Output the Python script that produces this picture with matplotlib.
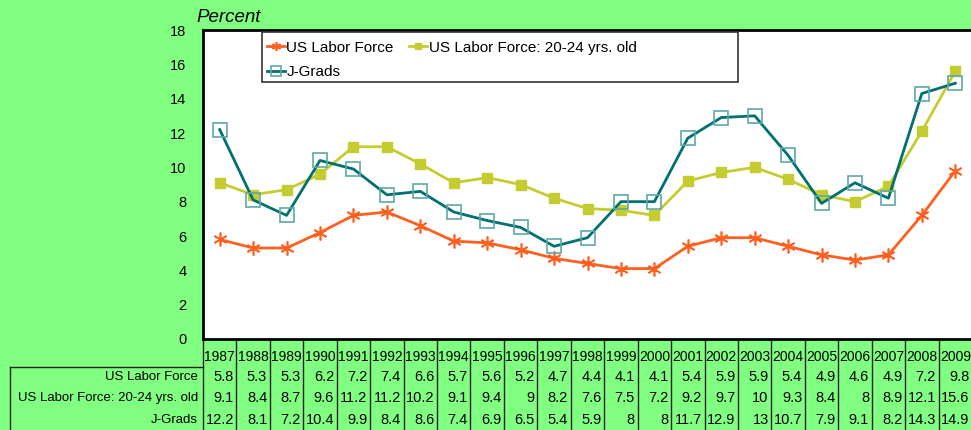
import matplotlib.pyplot as plt
import matplotlib.transforms as mtransforms
from matplotlib.lines import Line2D
from matplotlib.patches import Rectangle

plt.rcParams['font.family'] = ['Liberation Sans', 'DejaVu Sans']

years = list(range(1987, 2010))
labor = [5.8, 5.3, 5.3, 6.2, 7.2, 7.4, 6.6, 5.7, 5.6, 5.2, 4.7, 4.4, 4.1, 4.1,
         5.4, 5.9, 5.9, 5.4, 4.9, 4.6, 4.9, 7.2, 9.8]
young = [9.1, 8.4, 8.7, 9.6, 11.2, 11.2, 10.2, 9.1, 9.4, 9, 8.2, 7.6, 7.5, 7.2,
         9.2, 9.7, 10, 9.3, 8.4, 8, 8.9, 12.1, 15.6]
jgrads = [12.2, 8.1, 7.2, 10.4, 9.9, 8.4, 8.6, 7.4, 6.9, 6.5, 5.4, 5.9, 8, 8,
          11.7, 12.9, 13, 10.7, 7.9, 9.1, 8.2, 14.3, 14.9]
names = ['US Labor Force', 'US Labor Force: 20-24 yrs. old', 'J-Grads']

W, H = 971, 430
bg = '#80FF80'
fig = plt.figure(figsize=(W / 100, H / 100), dpi=100, facecolor=bg)


def fx(x):
    return x / W


def fy(y):
    return 1 - y / H


left, right, top, bottom = 203, 972, 30, 339
ax = fig.add_axes([fx(left), fy(bottom), fx(right - left), (bottom - top) / H])
ax.set_facecolor('white')

xs = list(range(len(years)))
ax.plot(xs, labor, color='#FF6020', lw=2, marker=(6, 2, 0), ms=10,
        mec='#FF6020', mew=1.2, label=names[0])
ax.plot(xs, young, color='#C4CC30', lw=2, marker='s', ms=6.5,
        mfc='#C4CC30', mec='#C4CC30', label=names[1])
ax.plot(xs, jgrads, color='#007070', lw=2, marker='s', ms=10,
        mfc='none', mec='#5FA8A8', mew=1.2, label=names[2])

ax.set_xlim(-0.5, len(years) - 0.5)
ax.set_ylim(0, 18)
ax.set_yticks(range(0, 19, 2))
ax.set_xticks([])
ax.tick_params(axis='y', length=0, labelsize=10.5, pad=12)
for s in ax.spines.values():
    s.set_linewidth(2)
    s.set_color('black')

fig.text(fx(196), fy(17), 'Percent', style='italic', fontsize=13.5,
         ha='left', va='center')

# legend box drawn separately so it can match the wide Excel frame
fig.add_artist(Rectangle((fx(262), fy(82)), fx(738 - 262), (82 - 32) / H,
                         transform=fig.transFigure, facecolor='white',
                         edgecolor='#333333', lw=1.2, zorder=5))
h = ax.get_legend_handles_labels()[0]
leg = fig.legend([h[0], h[2], h[1]], [names[0], names[2], names[1]], ncol=2,
                 loc='upper left', bbox_to_anchor=(fx(262), fy(36)),
                 fontsize=11, frameon=False, markerscale=0.65,
                 handlelength=1.2, handletextpad=0.1, columnspacing=1.0,
                 borderpad=0.3, labelspacing=0.68, borderaxespad=0)
leg.set_zorder(6)

# data table
trans = mtransforms.blended_transform_factory(ax.transData, fig.transFigure)
for i in range(len(years) + 1):
    ax.add_line(Line2D([i - 0.5, i - 0.5], [fy(bottom), 0], transform=trans,
                       color='#222222', lw=1, clip_on=False))
fig.add_artist(Line2D([fx(10), fx(left)], [fy(367), fy(367)],
                      color='#222222', lw=1))
fig.add_artist(Line2D([fx(10), fx(10)], [fy(367), 0], color='#222222', lw=1))

rows_y = [377, 398, 420]
for i, yr in enumerate(years):
    ax.text(i, fy(357), str(yr), transform=trans, ha='center', va='center',
            fontsize=10)
for r, vals in enumerate([labor, young, jgrads]):
    fig.text(fx(198), fy(rows_y[r]), names[r], ha='right', va='center',
             fontsize=9.5)
    for i, v in enumerate(vals):
        ax.text(i + 0.42, fy(rows_y[r]), f'{v:g}', transform=trans,
                ha='right', va='center', fontsize=10.5)

fig.savefig('out.png', dpi=100, facecolor=bg)
